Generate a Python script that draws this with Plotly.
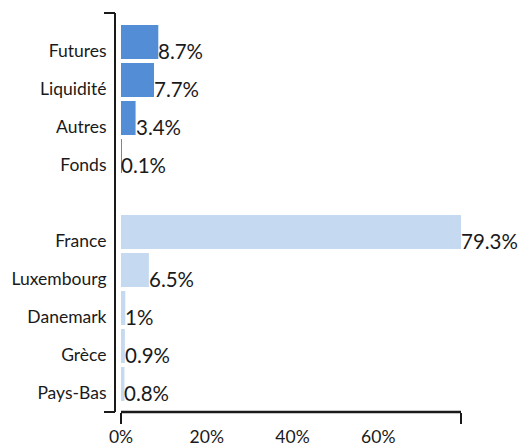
import plotly.graph_objects as go

# Data
asset_cats = ["Futures", "Liquidité", "Autres", "Fonds"]
asset_vals = [8.7, 7.7, 3.4, 0.1]
country_cats = ["France", "Luxembourg", "Danemark", "Grèce", "Pays-Bas"]
country_vals = [79.3, 6.5, 1, 0.9, 0.8]
x_tickvals = [0, 20, 40, 60]
x_ticktext = ["0%", "20%", "40%", "60%"]

asset_pos = list(range(len(asset_cats)))
country_pos = [len(asset_cats) + 1 + i for i in range(len(country_cats))]

FONT = "Lato"
TXT = "#1a1a1a"
AX = "#1a1a1a"
BW = 0.895
SHIFT = 0.237
xmax = max(asset_vals + country_vals)
yr = [country_pos[-1] + 0.5, -1]

L, R = 115, 59
pw = 520 - L - R
d0 = 6 / pw

fig = go.Figure()
fig.add_trace(go.Bar(
    x=asset_vals, y=asset_pos, orientation="h",
    marker=dict(color="#538DD5", line=dict(width=0)),
    width=BW, offset=-BW / 2 - SHIFT, hoverinfo="skip", showlegend=False,
))
fig.add_trace(go.Bar(
    x=country_vals, y=country_pos, orientation="h",
    marker=dict(color="#C5D9F1", line=dict(width=0)),
    width=BW, offset=-BW / 2 - SHIFT, hoverinfo="skip", showlegend=False,
))

for v, p in zip(asset_vals + country_vals, asset_pos + country_pos):
    fig.add_annotation(
        x=v, y=p, xref="x", yref="y", text=f"{v:g}%", showarrow=False,
        xanchor="left", yanchor="middle", xshift=-2,
        font=dict(family=FONT, size=20.5, color=TXT),
    )

# invisible trace on overlay axes so they render
fig.add_trace(go.Scatter(x=[0], y=[0], xaxis="x2", yaxis="y2",
                         mode="markers", marker=dict(opacity=0),
                         hoverinfo="skip", showlegend=False))

# x axis baseline along the bottom of the plot area
fig.add_shape(type="line", xref="paper", yref="paper", x0=d0, x1=1, y0=0, y1=0,
              line=dict(color=AX, width=2.5), layer="above")

fig.update_layout(
    width=520, height=448,
    margin=dict(l=L, r=R, t=13, b=36, autoexpand=False),
    paper_bgcolor="white", plot_bgcolor="white",
    barmode="overlay",
    font=dict(family=FONT, size=17.5, color=TXT),
    xaxis=dict(
        domain=[d0, 1], range=[0, xmax], anchor="free", position=0,
        showgrid=False, zeroline=False,
        showline=False, automargin=False,
        tickvals=x_tickvals, ticktext=x_ticktext,
        ticks="outside", ticklen=9, tickcolor="rgba(255,255,255,0)",
        tickfont=dict(family=FONT, size=17.5, color=TXT),
        fixedrange=True,
    ),
    xaxis2=dict(
        domain=[d0, 1], range=[0, xmax], overlaying="x", anchor="free",
        position=0, showgrid=False, zeroline=False, showline=False,
        automargin=False,
        tickvals=[0, xmax], ticks="outside", ticklen=11, tickwidth=2,
        tickcolor=AX, showticklabels=False, side="bottom",
    ),
    yaxis=dict(
        range=yr, anchor="free", position=0, showgrid=False, zeroline=False,
        showline=True, linecolor=AX, linewidth=2, automargin=False,
        tickvals=asset_pos + country_pos, ticktext=asset_cats + country_cats,
        ticks="", ticklabelstandoff=4,
        tickfont=dict(family=FONT, size=17.5, color=TXT),
    ),
    yaxis2=dict(
        range=yr, anchor="free", position=0, overlaying="y",
        showgrid=False, zeroline=False, showline=False, automargin=False,
        tickvals=[yr[1], yr[0]], ticks="outside", ticklen=11, tickwidth=2,
        tickcolor=AX, showticklabels=False,
    ),
)

fig.write_html(
    "out.html",
    config={"displayModeBar": False},
    post_script="document.body.style.margin='0';document.body.style.overflow='hidden';",
)
